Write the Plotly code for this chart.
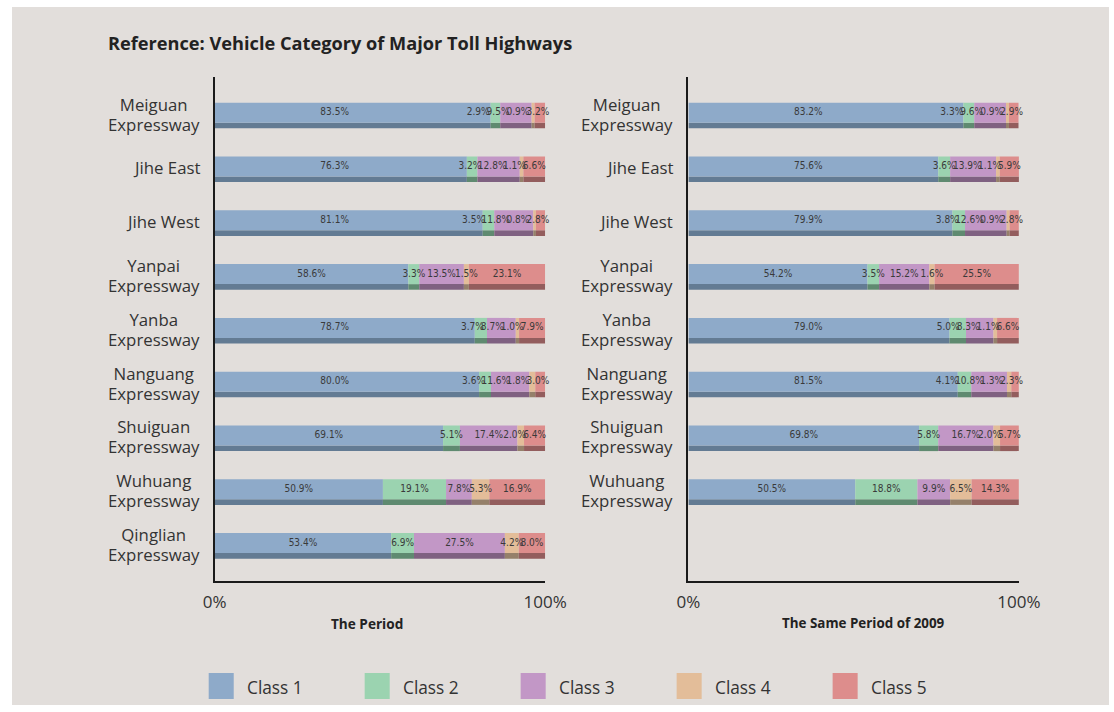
import plotly.graph_objects as go

# ---------------- data ----------------
categories_period = ["Meiguan<br>Expressway", "Jihe East", "Jihe West", "Yanpai<br>Expressway",
                     "Yanba<br>Expressway", "Nanguang<br>Expressway", "Shuiguan<br>Expressway",
                     "Wuhuang<br>Expressway", "Qinglian<br>Expressway"]
categories_2009 = categories_period[:8]

class_names = ["Class 1", "Class 2", "Class 3", "Class 4", "Class 5"]

period_c1 = [83.5, 76.3, 81.1, 58.6, 78.7, 80.0, 69.1, 50.9, 53.4]
period_c2 = [2.9, 3.2, 3.5, 3.3, 3.7, 3.6, 5.1, 19.1, 6.9]
period_c3 = [9.5, 12.8, 11.8, 13.5, 8.7, 11.6, 17.4, 7.8, 27.5]
period_c4 = [0.9, 1.1, 0.8, 1.5, 1.0, 1.8, 2.0, 5.3, 4.2]
period_c5 = [3.2, 6.6, 2.8, 23.1, 7.9, 3.0, 6.4, 16.9, 8.0]

same_c1 = [83.2, 75.6, 79.9, 54.2, 79.0, 81.5, 69.8, 50.5]
same_c2 = [3.3, 3.6, 3.8, 3.5, 5.0, 4.1, 5.8, 18.8]
same_c3 = [9.6, 13.9, 12.6, 15.2, 8.3, 10.8, 16.7, 9.9]
same_c4 = [0.9, 1.1, 0.9, 1.6, 1.1, 1.3, 2.0, 6.5]
same_c5 = [2.9, 5.9, 2.8, 25.5, 6.6, 2.3, 5.7, 14.3]

x_tick_vals = [0, 100]
x_tick_text = ["0%", "100%"]

# ---------------- style ----------------
W, H = 1150, 712
OFF, SC = 11.6, 0.969          # horizontal placement calibration of the captured page
face_colors = ["#8eaac9", "#9bd3b0", "#c297c6", "#e3bd99", "#dd8d8c"]
strip_colors = ["#637b93", "#5f8a70", "#7f6181", "#95806a", "#935d5d"]
txt_color = "#333333"
label_font = "Liberation Sans Narrow, DejaVu Sans Condensed, Arial Narrow, sans-serif"
main_font = "Open Sans, Noto Sans, sans-serif"

FACE_OFF, FACE_W = -0.238, 0.372
STRIP_OFF, STRIP_W = 0.134, 0.104
TEXT_DY = FACE_OFF + FACE_W / 2
FIRST_LABEL_CAP = 36.3

def px_x(p):
    return ((p - OFF) / SC) / W

def px_y(p):
    return 1 - p / H

fig = go.Figure()

def label_width(s):
    w = 0.0
    for ch in s:
        if ch.isdigit():
            w += 4.56
        elif ch == ".":
            w += 2.28
        elif ch == "%":
            w += 7.29
    return (w + 1.2) * 100 / 330

def add_panel(series, cats, xa, ya):
    n = len(cats)
    idx = list(range(n))
    bases = [0.0] * n
    text_x = [[0.0] * n for _ in series]
    texts = [[f"{v:.1f}%" for v in s] for s in series]
    centers = []
    for k, vals in enumerate(series):
        centers.append([b + v / 2 for b, v in zip(bases, vals)])
        fig.add_trace(go.Bar(orientation="h", y=idx, x=vals, base=bases[:], width=STRIP_W,
                             offset=STRIP_OFF, marker=dict(color=strip_colors[k], line=dict(width=0)),
                             xaxis=xa, yaxis=ya, showlegend=False, hoverinfo="skip"))
        fig.add_trace(go.Bar(orientation="h", y=idx, x=vals, base=bases[:], width=FACE_W,
                             offset=FACE_OFF, marker=dict(color=face_colors[k], line=dict(width=0)),
                             xaxis=xa, yaxis=ya, showlegend=False, name=class_names[k],
                             hoverinfo="skip"))
        bases = [b + v for b, v in zip(bases, vals)]
    m = len(series)
    for i in range(n):
        ws = [label_width(texts[k][i]) for k in range(m)]
        pos = [0.0] * m
        pos[m - 1] = min(centers[m - 1][i], 100 - ws[m - 1] / 2 + 0.8)
        for k in range(m - 2, -1, -1):
            pos[k] = min(centers[k][i], pos[k + 1] - (ws[k] + ws[k + 1]) / 2)
        pos[0] = min(pos[0], FIRST_LABEL_CAP)
        for k in range(m):
            text_x[k][i] = pos[k]
    for k in range(m):
        fig.add_trace(go.Scatter(x=text_x[k], y=[i + TEXT_DY for i in idx], text=texts[k],
                                 mode="text", textfont=dict(family=label_font, size=10, color="#3a3a3a"),
                                 xaxis=xa, yaxis=ya, showlegend=False, hoverinfo="skip",
                                 cliponaxis=False))
    return idx

idx_l = add_panel([period_c1, period_c2, period_c3, period_c4, period_c5], categories_period, "x", "y")
idx_r = add_panel([same_c1, same_c2, same_c3, same_c4, same_c5], categories_2009, "x2", "y2")

def cat_text(c):
    return "<br>".join(f"<span style='font-size:16.8px'>{ln}</span>" for ln in c.split("<br>"))

annotations = []
for i, c in zip(idx_l, categories_period):
    annotations.append(dict(x=px_x(201), xref="paper", y=i, yref="y", text=cat_text(c), showarrow=False,
                            xanchor="right", yanchor="middle", align="center", yshift=1.5,
                            font=dict(family=main_font, size=15.4, color=txt_color)))
for i, c in zip(idx_r, categories_2009):
    annotations.append(dict(x=px_x(674), xref="paper", y=i, yref="y2", text=cat_text(c), showarrow=False,
                            xanchor="right", yanchor="middle", align="center", yshift=1.5,
                            font=dict(family=main_font, size=15.4, color=txt_color)))

annotations.append(dict(x=px_x(105), y=px_y(43), xref="paper", yref="paper",
                        text="<b>Reference: Vehicle Category of Major Toll Highways</b>",
                        showarrow=False, xanchor="left", yanchor="middle",
                        font=dict(family=main_font, size=18.2, color="#222222")))
annotations.append(dict(x=px_x(366), y=px_y(623), xref="paper", yref="paper", text="<b>The Period</b>",
                        showarrow=False, xanchor="center", yanchor="middle",
                        font=dict(family=main_font, size=13.6, color="#222222")))
annotations.append(dict(x=px_x(862), y=px_y(623), xref="paper", yref="paper",
                        text="<b>The Same Period of 2009</b>",
                        showarrow=False, xanchor="center", yanchor="middle",
                        font=dict(family=main_font, size=13.4, color="#222222")))

shapes = [dict(type="rect", xref="paper", yref="paper", x0=max(px_x(7), 0), x1=min(px_x(1107), 1),
               y0=px_y(705), y1=px_y(7), fillcolor="#e2dedb", line=dict(width=0), layer="below")]

for k, name in enumerate(class_names):
    x0 = 208 + 155.75 * k
    shapes.append(dict(type="rect", xref="paper", yref="paper", x0=px_x(x0), x1=px_x(x0 + 25),
                       y0=px_y(699), y1=px_y(673), fillcolor=face_colors[k], line=dict(width=0)))
    annotations.append(dict(x=px_x(x0 + 36), y=px_y(687), xref="paper", yref="paper", text=name,
                            showarrow=False, xanchor="left", yanchor="middle",
                            font=dict(family=main_font, size=17.3, color=txt_color)))

y_range = [8.647, -0.716]
y_dom = [px_y(580.7), px_y(77)]
xaxis_common = dict(range=[0, 100], tickvals=x_tick_vals, ticktext=x_tick_text, showgrid=False,
                    zeroline=False, showline=True, linecolor="#1a1a1a", linewidth=1.5,
                    ticks="outside", ticklen=5, tickcolor="rgba(0,0,0,0)",
                    tickfont=dict(family=main_font, size=17, color=txt_color), fixedrange=True)
yaxis_common = dict(range=y_range, showgrid=False, zeroline=False, showline=True,
                    linecolor="#1a1a1a", linewidth=1.5, showticklabels=False, ticks="",
                    domain=y_dom, fixedrange=True)

fig.update_layout(
    width=W, height=H, autosize=False, margin=dict(l=0, r=0, t=0, b=0),
    paper_bgcolor="white", plot_bgcolor="rgba(0,0,0,0)",
    barmode="overlay", showlegend=False,
    xaxis=dict(domain=[px_x(214), px_x(544)], anchor="y", **xaxis_common),
    yaxis=dict(anchor="x", **yaxis_common),
    xaxis2=dict(domain=[px_x(687), px_x(1017)], anchor="y2", **xaxis_common),
    yaxis2=dict(anchor="x2", **yaxis_common),
    annotations=annotations, shapes=shapes,
)

fig.write_html("out.html", config={"responsive": False})
